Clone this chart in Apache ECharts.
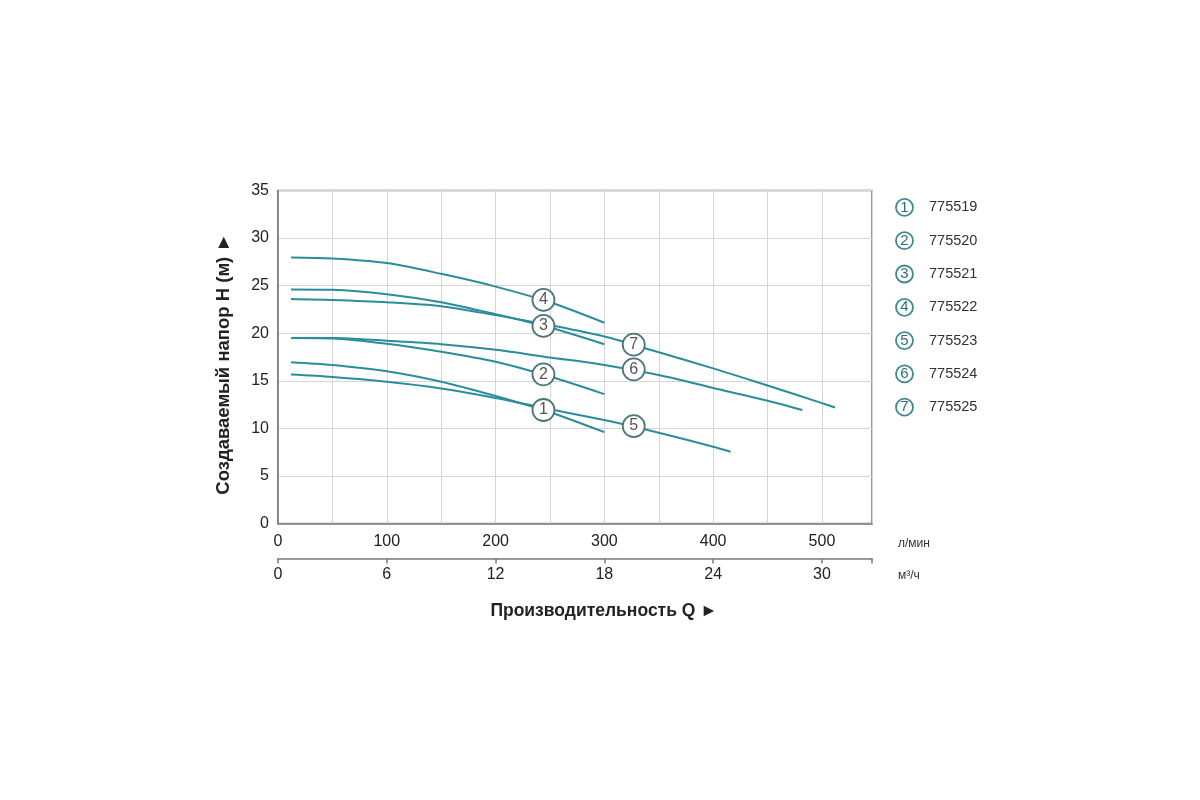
<!DOCTYPE html>
<html>
<head>
<meta charset="utf-8">
<script src="https://cdn.jsdelivr.net/npm/echarts@6/dist/echarts.min.js"></script>
<style>html,body{margin:0;padding:0;background:#fff;}#c{width:1200px;height:800px;}</style>
</head>
<body>
<div id="c"></div>
<script>
// ---- data ----
const seriesNames = ['775519','775520','775521','775522','775523','775524','775525'];
const curve1 = [[12,16.95],[50,16.66],[100,16.0],[150,14.9],[200,13.4],[250,11.7],[300,9.6]];
const curve2 = [[12,19.5],[50,19.45],[100,18.9],[150,18.06],[200,17.0],[250,15.45],[300,13.6]];
const curve3 = [[12,24.6],[50,24.56],[100,24.1],[150,23.26],[200,22.0],[250,20.6],[300,18.84]];
const curve4 = [[12,27.96],[50,27.85],[100,27.37],[150,26.24],[200,24.9],[250,23.25],[300,21.1]];
const curve5 = [[12,15.65],[50,15.4],[100,14.9],[150,14.2],[200,13.2],[250,12.0],[300,10.87],[350,9.54],[400,8.07],[416,7.54]];
const curve6 = [[12,19.5],[50,19.5],[100,19.2],[150,18.84],[200,18.25],[250,17.45],[300,16.66],[350,15.6],[400,14.25],[450,12.9],[482,11.93]];
const curve7 = [[12,23.6],[50,23.5],[100,23.26],[150,22.84],[200,21.9],[250,20.85],[300,19.65],[350,18.0],[400,16.3],[450,14.5],[500,12.65],[512,12.2]];
const curves = [curve1, curve2, curve3, curve4, curve5, curve6, curve7];
// circled-number marker positions on each curve
const markerPoints = [[244,11.93],[244,15.68],[244,20.77],[244,23.5],[327,10.24],[327,16.2],[327,18.8]];
const yTicks = [0,5,10,15,20,25,30,35];
const xMaxLmin = 546;            // л/мин
const xMaxM3h = xMaxLmin * 0.06; // м³/ч

const lineColor = '#2a8d9b';
const chart = echarts.init(document.getElementById('c'));

const series = curves.map((c, i) => ({
  name: seriesNames[i],
  type: 'line',
  xAxisIndex: 0,
  yAxisIndex: 0,
  data: c,
  smooth: 0.3,
  symbol: 'none',
  lineStyle: { color: lineColor, width: 2 },
  itemStyle: { color: lineColor },
  markPoint: {
    symbol: 'circle',
    symbolSize: 22,
    itemStyle: { color: '#fff', borderColor: '#4e767b', borderWidth: 1.8 },
    label: { show: true, formatter: String(i + 1), color: '#555', fontSize: 16, fontFamily: 'Liberation Sans' },
    data: [{ coord: markerPoints[i] }]
  }
}));

chart.setOption({
  backgroundColor: '#fff',
  animation: false,
  textStyle: { fontFamily: 'Liberation Sans' },
  grid: { left: 278, top: 190.5, width: 594, height: 333, show: true, borderColor: '#7a7a7a', borderWidth: 1.5, backgroundColor: 'transparent' },
  legend: {
    orient: 'vertical', left: 885, top: 193, itemGap: 14.5,
    itemWidth: 0, itemHeight: 0, selectedMode: false,
    data: seriesNames,
    formatter: function (name) { return '{n|' + (seriesNames.indexOf(name) + 1) + '}{t|' + name + '}'; },
    textStyle: {
      rich: {
        n: { width: 17, height: 17, lineHeight: 17, align: 'center', borderRadius: 10, borderWidth: 1.8, borderColor: '#3f8a93', color: '#2f6f78', fontSize: 15 },
        t: { padding: [0, 0, 0, 16], color: '#333', fontSize: 14.5 }
      }
    }
  },
  xAxis: [
    {
      type: 'value', min: 0, max: xMaxLmin, interval: 50,
      axisLine: { show: true, lineStyle: { color: '#7a7a7a', width: 1.5 } },
      axisTick: { show: false },
      splitLine: { show: true, lineStyle: { color: '#d6d6d6', width: 1 } },
      axisLabel: { fontSize: 16, color: '#222', margin: 10, formatter: v => (v % 100 === 0 ? String(v) : '') }
    },
    {
      type: 'value', min: 0, max: xMaxM3h, interval: 6, position: 'bottom', offset: 35,
      axisLine: { show: true, lineStyle: { color: '#7a7a7a', width: 1.5 } },
      axisTick: { show: true, length: 5, lineStyle: { color: '#7a7a7a', width: 1.5 } },
      splitLine: { show: false },
      axisLabel: { fontSize: 16, color: '#222', margin: 8, formatter: v => (v % 6 === 0 ? String(v) : '') },
      name: 'Производительность Q ►', nameLocation: 'middle', nameGap: 44,
      nameTextStyle: { fontSize: 17.5, fontWeight: 'bold', color: '#222', padding: [0, 0, 0, 58] }
    }
  ],
  yAxis: {
    type: 'value', min: yTicks[0], max: yTicks[yTicks.length - 1], interval: 5,
    axisLine: { show: true, lineStyle: { color: '#7a7a7a', width: 1.5 } },
    axisTick: { show: false },
    splitLine: { show: true, lineStyle: { color: '#d6d6d6', width: 1 } },
    axisLabel: { fontSize: 16, color: '#222', margin: 9 },
    name: 'Создаваемый напор H (м) ►', nameLocation: 'middle', nameGap: 45, nameRotate: 90,
    nameTextStyle: { fontSize: 18.5, fontWeight: 'bold', color: '#222', padding: [0, 14, 0, 0] }
  },
  graphic: [
    { type: 'text', left: 898, top: 538, style: { text: 'л/мин', fontSize: 12, fill: '#333', fontFamily: 'Liberation Sans' } },
    { type: 'text', left: 898, top: 570, style: { text: 'м³/ч', fontSize: 12, fill: '#333', fontFamily: 'Liberation Sans' } }
  ],
  series: series
});
</script>
</body>
</html>
